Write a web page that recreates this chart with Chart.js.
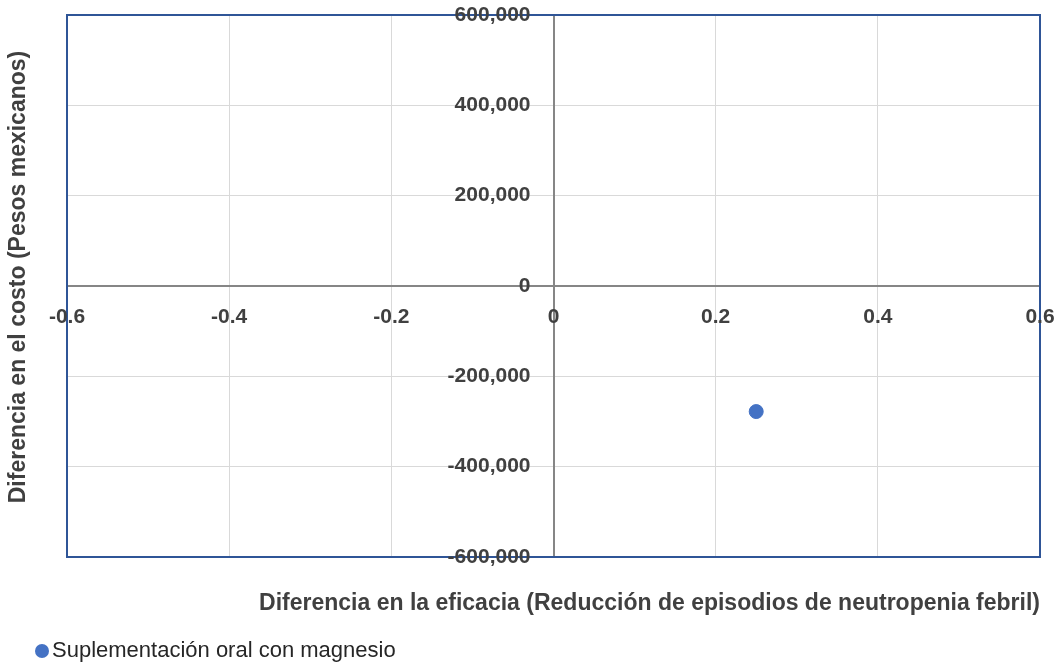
<!DOCTYPE html>
<html>
<head>
<meta charset="utf-8">
<script src="https://cdn.jsdelivr.net/npm/chart.js@4.4.1/dist/chart.umd.min.js"></script>
<style>
  html, body { margin: 0; padding: 0; background: #fff; }
  #wrap { width: 1062px; height: 666px; position: relative; }
</style>
</head>
<body>
<div id="wrap"><canvas id="scatter"></canvas></div>
<script>
const seriesName = 'Suplementación oral con magnesio';
const efficacyDiff = [0.25];
const costDiff = [-278000];
const xTicks = [-0.6, -0.4, -0.2, 0, 0.2, 0.4, 0.6];
const yTicks = [-600000, -400000, -200000, 0, 200000, 400000, 600000];
const xTitle = 'Diferencia en la eficacia (Reducción de episodios de neutropenia febril)';
const yTitle = 'Diferencia en el costo (Pesos mexicanos)';

const tickFont = { family: 'Liberation Sans', size: 21, weight: 'bold' };
const textColor = '#404040';

const noPad = s => { s.paddingTop = 0; s.paddingBottom = 0; s.paddingLeft = 0; s.paddingRight = 0; };

// plot frame + axis titles + legend, drawn around the chart area
const framePlugin = {
  id: 'frame',
  beforeDraw(chart) {
    // centred y axis ignores ticks.padding, so nudge its labels left
    chart.scales.y.getLabelItems().forEach(it => { it.options.translation[0] = chart.scales.x.getPixelForValue(0) - 23; });
  },
  beforeDatasetsDraw(chart) {
    const { ctx, chartArea: a } = chart;
    ctx.save();
    ctx.strokeStyle = '#2F5597';
    ctx.lineWidth = 2;
    ctx.strokeRect(a.left, a.top, a.right - a.left, a.bottom - a.top);
    ctx.restore();
  },
  afterDraw(chart) {
    const { ctx, chartArea: a } = chart;
    ctx.save();
    ctx.fillStyle = textColor;
    ctx.font = 'bold 23px "Liberation Sans"';
    ctx.textAlign = 'right';
    ctx.textBaseline = 'middle';
    ctx.fillText(xTitle, a.right, 604);

    ctx.translate(19, 277);
    ctx.rotate(-Math.PI / 2);
    ctx.textAlign = 'center';
    ctx.fillText(yTitle, 0, 0);
    ctx.restore();

    // legend
    ctx.save();
    const ds = chart.data.datasets[0];
    ctx.fillStyle = ds.backgroundColor;
    ctx.beginPath();
    ctx.arc(42, 651, 7, 0, Math.PI * 2);
    ctx.fill();
    ctx.fillStyle = '#262626';
    ctx.font = '22px "Liberation Sans"';
    ctx.textAlign = 'left';
    ctx.textBaseline = 'middle';
    ctx.fillText(ds.label, 52, 651);
    ctx.restore();
  }
};

new Chart('scatter', {
  type: 'scatter',
  data: {
    datasets: [{
      label: seriesName,
      data: efficacyDiff.map((x, i) => ({ x: x, y: costDiff[i] })),
      backgroundColor: '#4472C4',
      borderColor: '#4472C4',
      pointRadius: 7,
      pointHoverRadius: 7
    }]
  },
  options: {
    responsive: true,
    maintainAspectRatio: false,
    animation: false,
    layout: { padding: { left: 67, right: 22, top: 15, bottom: 109 } },
    plugins: {
      legend: { display: false },
      tooltip: { enabled: false }
    },
    scales: {
      x: {
        type: 'linear',
        position: { y: 0 },
        min: -0.6,
        max: 0.6,
        afterBuildTicks: s => { s.ticks = xTicks.map(v => ({ value: v })); },
        afterFit: noPad,
        grid: { color: '#d9d9d9', lineWidth: 1, drawTicks: false },
        border: { color: '#868686', width: 2 },
        ticks: {
          z: 1,
          autoSkip: false,
          maxRotation: 0,
          padding: 19,
          color: textColor,
          font: tickFont,
          callback: v => String(Math.round(v * 10) / 10)
        }
      },
      y: {
        type: 'linear',
        position: { x: 0 },
        min: -600000,
        max: 600000,
        afterBuildTicks: s => { s.ticks = yTicks.map(v => ({ value: v })); },
        afterFit: noPad,
        grid: { color: '#d9d9d9', lineWidth: 1, drawTicks: false },
        border: { color: '#868686', width: 2 },
        ticks: {
          z: 1,
          autoSkip: false,
          padding: 23,
          color: textColor,
          font: tickFont,
          callback: v => v.toLocaleString('en-US')
        }
      }
    }
  },
  plugins: [framePlugin]
});
</script>
</body>
</html>
